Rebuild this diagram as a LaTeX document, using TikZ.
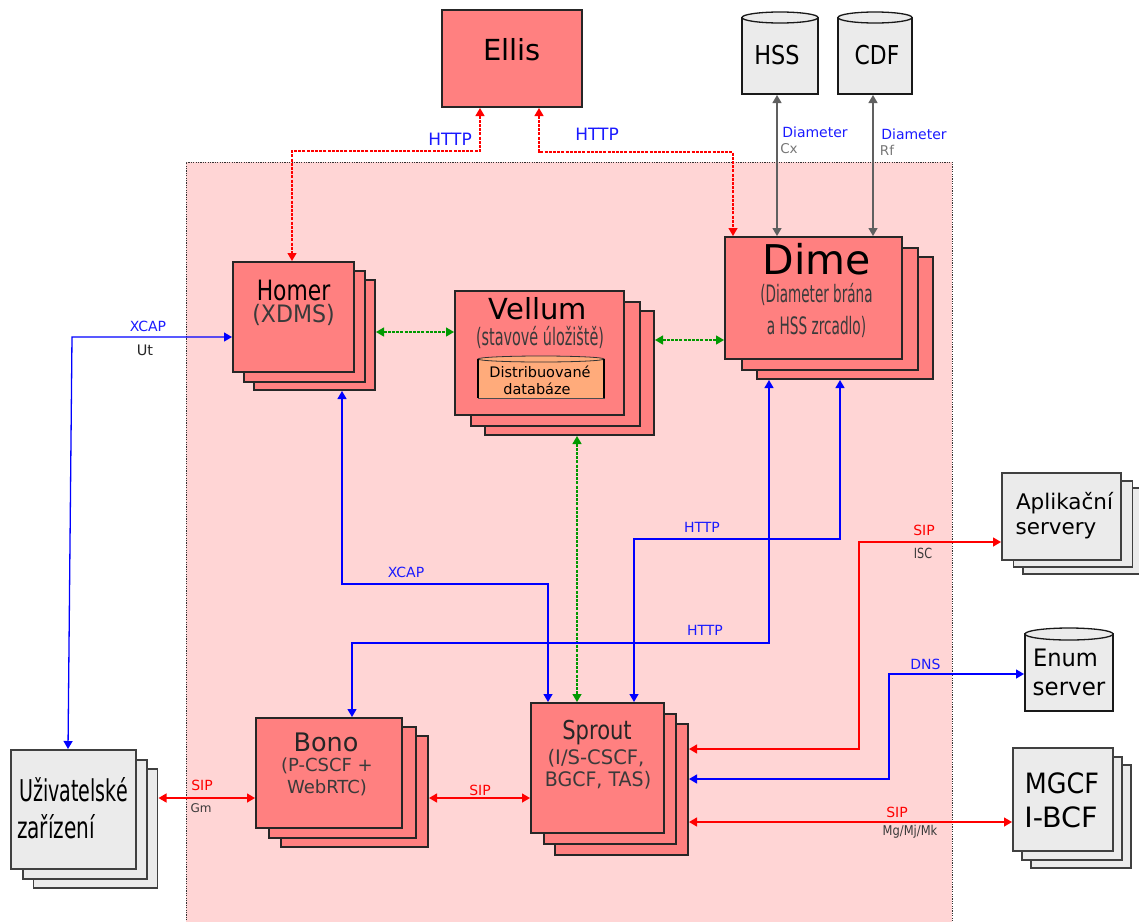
\documentclass[tikz,border=0pt]{standalone}
\usepackage{fontspec}
\setmainfont{DejaVu Sans}
\usetikzlibrary{arrows.meta}
\definecolor{corefill}{HTML}{FFD5D5}
\definecolor{boxred}{HTML}{FF8080}
\definecolor{boxgray}{HTML}{EBEBEB}
\definecolor{dbfill}{HTML}{FFAB7B}
\definecolor{arrowgray}{HTML}{606060}
\definecolor{textblue}{HTML}{1A1AFF}
\definecolor{subgray}{HTML}{3A3A3A}
\definecolor{ifgray}{HTML}{777777}
\definecolor{linegreen}{HTML}{009900}
\newcommand{\fs}[1]{\fontsize{#1}{#1}\selectfont}
\newcommand{\squeezed}[2]{\scalebox{#1}[1]{#2}}
\tikzset{
  redbox/.style={draw=black!85,line width=1.3pt,fill=boxred,inner sep=0pt,outer sep=0pt},
  graybox/.style={draw=black!75,line width=1.3pt,fill=boxgray,inner sep=0pt,outer sep=0pt},
  storage/.style={draw=black!90,line width=1.5pt,fill=boxgray,inner sep=0pt,outer sep=0pt},
  storetop/.style={draw=black!90,line width=1.3pt,fill=boxgray},
  link/.style={line width=1.3pt,shorten <=1pt,shorten >=1pt,{Triangle[length=8pt,width=9pt]}-{Triangle[length=8pt,width=9pt]}},
  redlink/.style={link,red},
  bluelink/.style={link,blue},
  greylink/.style={link,arrowgray},
  reddash/.style={link,red,dash pattern=on 3pt off 1.2pt},
  greendash/.style={link,linegreen,dash pattern=on 3pt off 1.2pt},
  title/.style={inner sep=0pt,text=black},
  subtitle/.style={inner sep=0pt,text=subgray},
  proto/.style={inner sep=0pt,text=textblue,font=\fs{14}},
  sip/.style={inner sep=0pt,text=red,font=\fs{14}},
  iface/.style={inner sep=0pt,text=subgray,font=\fs{13.5}}
}
\begin{document}
\begin{tikzpicture}[x=1pt,y=-1pt]
  \useasboundingbox (0,0) rectangle (1139,921);
  % core area
  \fill[corefill] (186,162) rectangle (952,930);
  \draw[black!80,line width=1pt,dash pattern=on 1.2pt off 1.2pt] (186,930) -- (186,162) -- (952,162) -- (952,930);

  % boxes
  \node[redbox,minimum width=140pt,minimum height=97pt] (ellis) at (512,58.5) {};
  \node[storage,minimum width=76pt,minimum height=76.5pt] (hss) at (780,55.75) {};
  \draw[storetop] (hss.north) ellipse [x radius=38pt,y radius=5.5pt];
  \node[storage,minimum width=74pt,minimum height=76.5pt] (cdf) at (875,55.75) {};
  \draw[storetop] (cdf.north) ellipse [x radius=37pt,y radius=5.5pt];

  \node[redbox,minimum width=121pt,minimum height=110pt] (homerb) at (314.5,335) {};
  \node[redbox,minimum width=121pt,minimum height=111pt] (homerm) at (304.5,326.5) {};
  \node[redbox,minimum width=121pt,minimum height=110pt] (homer) at (293.5,317) {};

  \node[redbox,minimum width=169pt,minimum height=124pt] (vellumb) at (569.5,373) {};
  \node[redbox,minimum width=169pt,minimum height=124pt] (vellumm) at (555.5,364) {};
  \node[redbox,minimum width=169pt,minimum height=124pt] (vellum) at (539.5,353) {};
  \node[draw=black!70,line width=.8pt,fill=dbfill,inner sep=0pt,outer sep=0pt,minimum width=126pt,minimum height=39pt] (db) at (541,378.5) {};
  \draw[black!80,line width=.8pt,fill=dbfill] (db.north) ellipse [x radius=63pt,y radius=3pt];
  \draw[black,line width=2pt] (db.north west) -- (db.south west);
  \draw[black,line width=2pt] (db.north east) -- (db.south east);

  \node[redbox,minimum width=176pt,minimum height=122pt] (dimeb) at (845,318) {};
  \node[redbox,minimum width=176pt,minimum height=122pt] (dimem) at (830,309) {};
  \node[redbox,minimum width=177pt,minimum height=122pt] (dime) at (813.5,298) {};

  \node[graybox,minimum width=124pt,minimum height=119pt] (ueb) at (95.5,828.5) {};
  \node[graybox,minimum width=124pt,minimum height=119pt] (uem) at (85,819.5) {};
  \node[graybox,minimum width=125pt,minimum height=119pt] (ue) at (73.5,809.5) {};

  \node[redbox,minimum width=147pt,minimum height=111pt] (bonob) at (354.5,791.5) {};
  \node[redbox,minimum width=147pt,minimum height=111pt] (bonom) at (342.5,782.5) {};
  \node[redbox,minimum width=146pt,minimum height=110pt] (bono) at (329,773) {};

  \node[redbox,minimum width=133pt,minimum height=131pt] (sproutb) at (621.5,789.5) {};
  \node[redbox,minimum width=132pt,minimum height=130pt] (sproutm) at (610,779) {};
  \node[redbox,minimum width=133pt,minimum height=130pt] (sprout) at (597.5,768) {};

  \node[graybox,minimum width=120pt,minimum height=86pt] (aplb) at (1083,531) {};
  \node[graybox,minimum width=119pt,minimum height=86pt] (aplm) at (1073,524) {};
  \node[graybox,minimum width=119pt,minimum height=87pt] (apl) at (1061.5,516.5) {};

  \node[storage,minimum width=88pt,minimum height=77pt] (enum) at (1069,672.5) {};
  \draw[storetop] (enum.north) ellipse [x radius=44pt,y radius=6pt];

  \node[graybox,minimum width=100pt,minimum height=103pt] (mgcfb) at (1081,816.5) {};
  \node[graybox,minimum width=100pt,minimum height=103pt] (mgcfm) at (1072,808.5) {};
  \node[graybox,minimum width=100pt,minimum height=103pt] (mgcf) at (1063,799.5) {};

  % connectors
  \draw[reddash] ([xshift=-32pt]ellis.south) -- ++(0,44) -| ([xshift=-1.5pt]homer.north);
  \draw[reddash] ([xshift=27pt]ellis.south) -- ++(0,45) -| ([xshift=-80.5pt]dime.north);
  \draw[greylink] ([xshift=-3pt]hss.south) -- ([xshift=-36.5pt]dime.north);
  \draw[greylink] ([xshift=-2pt]cdf.south) -- ([xshift=59.5pt]dime.north);
  \draw[greendash] ([yshift=3pt]homerb.east) -- ([yshift=21pt]vellum.west);
  \draw[greendash] ([yshift=33pt]vellumb.east) -- ([yshift=-42pt]dime.west);
  \draw[greendash] ([xshift=7.5pt]vellumb.south) -- ([xshift=-20.5pt]sprout.north);
  \draw[bluelink] ([yshift=-20pt]homer.west) -- ++(-161,0) -- ([xshift=-5.5pt]ue.north);
  \draw[bluelink] ([xshift=27.5pt]homerb.south) -- ++(0,194) -| ([xshift=-49.5pt]sprout.north);
  \draw[bluelink] ([xshift=-5pt]dimeb.south) -- ++(0,160) -| ([xshift=36.5pt]sprout.north);
  \draw[bluelink] ([xshift=-76pt]dimeb.south) -- ++(0,264) -| ([xshift=23pt]bono.north);
  \draw[redlink] ([yshift=40.5pt]sproutb.east) -- ++(171,0) |- ([yshift=-25.5pt]apl.west);
  \draw[bluelink] ([yshift=10.5pt]sproutb.east) -- ++(201,0) |- ([yshift=-1.5pt]enum.west);
  \draw[redlink] ([yshift=-32.5pt]sproutb.east) -- ([yshift=-22.5pt]mgcf.west);
  \draw[redlink] ([yshift=30.5pt]ueb.east) -- ([yshift=-25pt]bono.west);
  \draw[redlink] ([yshift=-6.5pt]bonob.east) -- ([yshift=-30pt]sprout.west);

  % box texts
  \node[title,font=\fs{29}] (ellistxt) at (512,50) {Ellis};
  \node[title,font=\fs{26}] (hsstxt) at (777,55) {\squeezed{.86}{HSS}};
  \node[title,font=\fs{26}] (cdftxt) at (877,55) {\squeezed{.84}{CDF}};
  \node[title,align=center,font=\fs{24}] (homertxt) at (293.5,303) {{\fs{28}\squeezed{.78}{Homer}}\\[-1.3pt]{\color{subgray}\squeezed{.92}{(XDMS)}}};
  \node[title,font=\fs{29}] (vellumtxt) at (538,309) {Vellum};
  \node[subtitle,font=\fs{24}] (vellumsub) at (540,337) {\squeezed{.6}{(stavové úložiště)}};
  \node[title,font=\fs{14.5}] (dbtxta) at (540,372) {Distribuované};
  \node[title,font=\fs{14.5}] (dbtxtb) at (537,389) {databáze};
  \node[title,align=center,font=\fs{24}] (dimetxt) at (816.5,290.5) {{\fs{41}Dime}\\[3pt]{\color{subgray}\squeezed{.565}{(Diameter brána}}\\[8pt]{\color{subgray}\squeezed{.57}{a HSS zrcadlo)}}};
  \node[title,font=\fs{30}] (uetxta) at (73.5,790) {\squeezed{.635}{Uživatelské}};
  \node[title,font=\fs{30}] (uetxtb) at (56,827) {\squeezed{.67}{zařízení}};
  \node[title,text=black!85,font=\fs{25.5}] (bonotxt) at (326,742) {Bono};
  \node[subtitle,font=\fs{18}] (bonosuba) at (327,766) {(P-CSCF +};
  \node[subtitle,font=\fs{18}] (bonosubb) at (327,788) {WebRTC)};
  \node[title,text=black!85,font=\fs{26}] (sprouttxt) at (597,733) {\squeezed{.81}{Sprout}};
  \node[subtitle,font=\fs{20}] (sproutsuba) at (596,758) {\squeezed{.98}{(I/S-CSCF,}};
  \node[subtitle,font=\fs{20}] (sproutsubb) at (598,780) {\squeezed{.95}{BGCF, TAS)}};
  \node[title,font=\fs{21.5}] (apltxta) at (1064.5,503) {Aplikační};
  \node[title,font=\fs{21.5}] (apltxtb) at (1056,531) {servery};
  \node[title,font=\fs{24}] (enumtxta) at (1065.5,658) {\squeezed{.94}{Enum}};
  \node[title,font=\fs{24}] (enumtxtb) at (1069,689) {\squeezed{.955}{server}};
  \node[title,font=\fs{28}] (mgcftxta) at (1062,783) {\squeezed{.91}{MGCF}};
  \node[title,font=\fs{28}] (mgcftxtb) at (1061,817) {\squeezed{1.02}{I-BCF}};

  % connector labels
  \node[proto,font=\fs{17}] (httpa) at (450,139) {HTTP};
  \node[proto,font=\fs{17}] (httpb) at (597,134) {HTTP};
  \node[proto] (diama) at (815,132) {Diameter};
  \node[iface,text=ifgray] (cx) at (789,149) {Cx};
  \node[proto] (diamb) at (914,134) {Diameter};
  \node[iface,text=ifgray] (rf) at (887,150) {Rf};
  \node[proto] (xcapa) at (148,326) {XCAP};
  \node[iface,text=black!85,font=\fs{14.5}] (ut) at (145,350) {Ut};
  \node[proto] (xcapb) at (406,572) {XCAP};
  \node[proto] (httpc) at (702,527) {HTTP};
  \node[proto] (httpd) at (705,630) {HTTP};
  \node[sip] (sipisc) at (924,530) {SIP};
  \node[iface,font=\fs{14}] (isc) at (923,553) {\squeezed{.8}{ISC}};
  \node[proto] (dns) at (925.5,664) {DNS};
  \node[sip] (sipmg) at (897,812) {SIP};
  \node[iface] (mg) at (910,832) {\squeezed{.85}{Mg/Mj/Mk}};
  \node[sip] (sipgm) at (202,785) {SIP};
  \node[iface,font=\fs{12}] (gm) at (201,808) {Gm};
  \node[sip] (sipbs) at (480,790.5) {SIP};
\end{tikzpicture}
\end{document}
